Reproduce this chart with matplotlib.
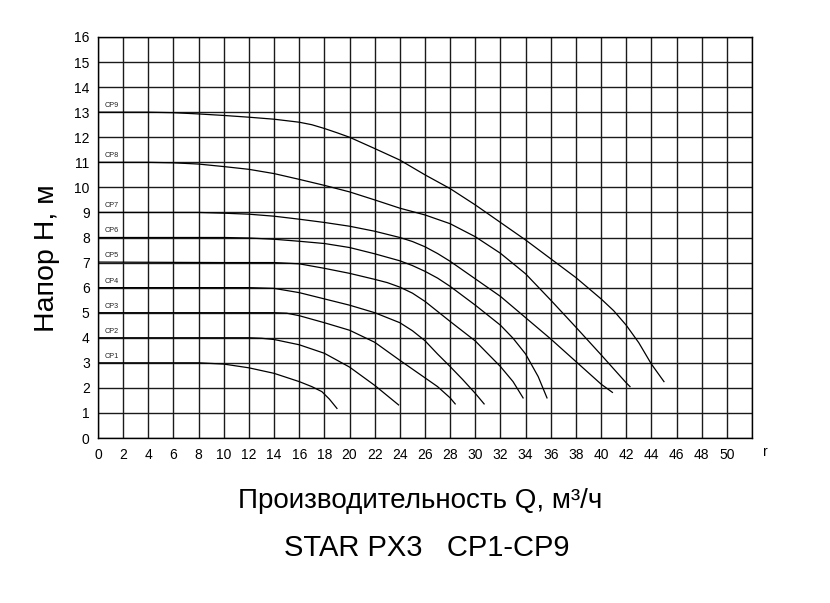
import matplotlib
matplotlib.use("Agg")
import matplotlib.pyplot as plt
import numpy as np

plt.rcParams['font.family'] = ['Liberation Sans', 'DejaVu Sans']

# pump curves, Q (m3/h) -> H (m)
cp1_q = [0, 4, 8, 10, 12, 14, 16, 17, 17.8, 18.4, 19.0]
cp1_h = [3, 3, 3, 2.95, 2.8, 2.58, 2.25, 2.05, 1.85, 1.55, 1.18]

cp2_q = [0, 6, 12, 13, 14, 16, 18, 20, 22, 23.9]
cp2_h = [4, 4, 4, 3.98, 3.93, 3.72, 3.38, 2.83, 2.1, 1.32]

cp3_q = [0, 8, 14, 15, 16, 18, 20, 22, 24, 26, 27, 28, 28.4]
cp3_h = [5, 5, 5, 4.98, 4.88, 4.6, 4.3, 3.82, 3.1, 2.4, 2.05, 1.6, 1.36]

cp4_q = [0, 8, 12, 14, 16, 18, 20, 22, 24, 25, 26, 27, 28, 29, 30, 30.7]
cp4_h = [6, 6, 6, 5.97, 5.8, 5.55, 5.3, 5.0, 4.6, 4.28, 3.88, 3.35, 2.85, 2.33, 1.78, 1.36]

cp5_q = [0, 10, 14, 16, 18, 20, 22, 23, 24, 25, 26, 28, 30, 32, 33, 33.8]
cp5_h = [7.02, 7.0, 7.0, 6.95, 6.77, 6.57, 6.33, 6.2, 6.02, 5.78, 5.45, 4.65, 3.87, 2.85, 2.25, 1.6]

cp6_q = [0, 10, 12, 14, 16, 18, 20, 22, 24, 25, 26, 27, 28, 30, 32, 33, 34, 35, 35.7]
cp6_h = [8, 8, 7.98, 7.93, 7.85, 7.76, 7.6, 7.35, 7.07, 6.88, 6.65, 6.38, 6.05, 5.3, 4.5, 3.98, 3.35, 2.45, 1.6]

cp7_q = [0, 8, 10, 12, 14, 16, 18, 20, 22, 24, 25, 26, 27, 28, 30, 32, 34, 36, 38, 40, 40.9]
cp7_h = [9, 9, 8.97, 8.93, 8.85, 8.73, 8.6, 8.45, 8.25, 8.0, 7.84, 7.63, 7.36, 7.05, 6.35, 5.65, 4.8, 3.95, 3.05, 2.15, 1.82]

cp8_q = [0, 4, 6, 8, 10, 12, 14, 16, 18, 20, 22, 24, 26, 28, 30, 32, 34, 36, 38, 40, 42, 42.3]
cp8_h = [11, 11, 10.98, 10.93, 10.83, 10.72, 10.55, 10.32, 10.08, 9.82, 9.5, 9.17, 8.9, 8.55, 8.03, 7.37, 6.55, 5.5, 4.42, 3.32, 2.2, 2.05]

cp9_q = [0, 4, 6, 8, 10, 12, 14, 16, 17, 18, 19, 20, 22, 24, 26, 28, 30, 32, 34, 36, 38, 40, 41, 42, 43, 44, 45]
cp9_h = [13, 13, 12.98, 12.93, 12.87, 12.8, 12.72, 12.6, 12.5, 12.35, 12.18, 12.0, 11.55, 11.09, 10.5, 9.95, 9.3, 8.6, 7.9, 7.15, 6.4, 5.55, 5.08, 4.5, 3.8, 2.95, 2.25]

curves = [
    ("CP1", cp1_q, cp1_h),
    ("CP2", cp2_q, cp2_h),
    ("CP3", cp3_q, cp3_h),
    ("CP4", cp4_q, cp4_h),
    ("CP5", cp5_q, cp5_h),
    ("CP6", cp6_q, cp6_h),
    ("CP7", cp7_q, cp7_h),
    ("CP8", cp8_q, cp8_h),
    ("CP9", cp9_q, cp9_h),
]

x_ticks = np.arange(0, 52, 2)
y_ticks = np.arange(0, 17, 1)

fig = plt.figure(figsize=(8.3, 6.03), dpi=100)
ax = fig.add_axes([98 / 830, 1 - 438 / 603, 654 / 830, 401 / 603])

for name, q, h in curves:
    ax.plot(q, h, color='black', lw=0.9, zorder=3, solid_joinstyle='round')
    ax.text(0.55, h[0] + 0.12, name, fontsize=5.2, color='#222222',
            ha='left', va='bottom', zorder=4)

ax.set_xlim(0, 52)
ax.set_ylim(0, 16)
ax.set_xticks(np.arange(0, 54, 2))
ax.set_xticklabels([str(v) for v in x_ticks] + [""])
ax.set_yticks(y_ticks)
ax.tick_params(length=0, labelsize=10)
ax.tick_params(axis='x', pad=7)
ax.tick_params(axis='y', pad=6)
ax.grid(True, color='#1a1a1a', lw=1.0)
ax.set_axisbelow(True)
for s in ax.spines.values():
    s.set_color('black')
    s.set_linewidth(1.0)

fig.text(765 / 830, 1 - 452 / 603, "r", fontsize=10, ha='center', va='center')

fig.text(47 / 830, 1 - 258 / 603, "Напор H, м", rotation=90, fontsize=20.5,
         ha='center', va='center')
fig.text(420 / 830, 1 - 501 / 603, "Производительность Q, м³/ч", fontsize=20,
         ha='center', va='center')
fig.text(427 / 830, 1 - 548 / 603, "STAR PX3   CP1-CP9", fontsize=21,
         ha='center', va='center')

fig.savefig("out.png", dpi=100)
